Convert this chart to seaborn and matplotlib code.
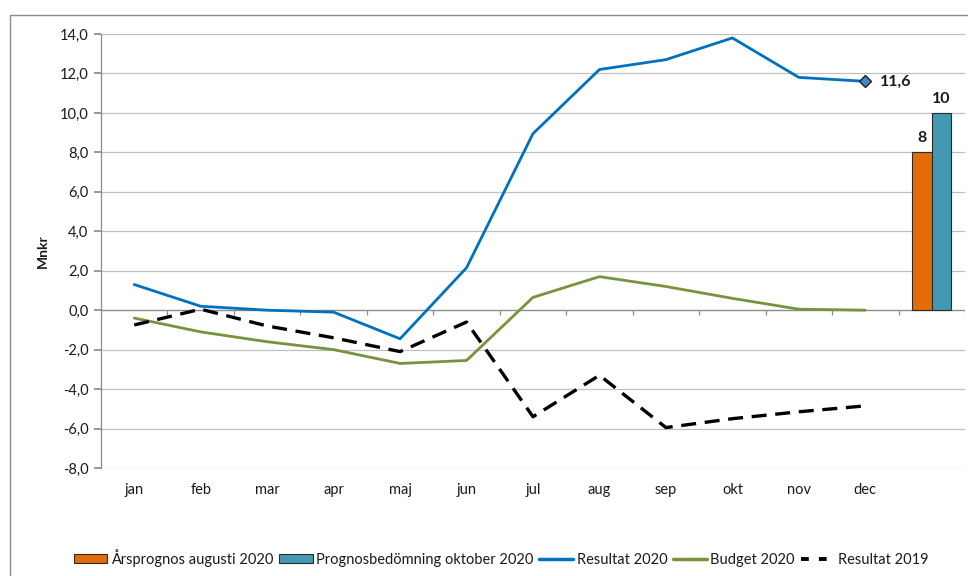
import numpy as np
import pandas as pd
import seaborn as sns
import matplotlib
matplotlib.use("Agg")
import matplotlib.pyplot as plt
from matplotlib.ticker import FuncFormatter, FixedLocator
from matplotlib.patches import Rectangle
from matplotlib.lines import Line2D

months = ["jan", "feb", "mar", "apr", "maj", "jun", "jul", "aug", "sep", "okt", "nov", "dec"]
resultat_2020 = [1.3, 0.2, 0.0, -0.1, -1.45, 2.15, 8.95, 12.2, 12.7, 13.8, 11.8, 11.6]
budget_2020 = [-0.4, -1.1, -1.6, -2.0, -2.7, -2.55, 0.65, 1.7, 1.2, 0.6, 0.05, 0.0]
resultat_2019 = [-0.75, 0.05, -0.8, -1.4, -2.1, -0.6, -5.4, -3.3, -5.95, -5.5, -5.15, -4.85]
bar_series = ["Årsprognos augusti 2020", "Prognosbedömning oktober 2020"]
bar_values = [8, 10]
last_label = "11,6"

sns.set_theme(style="white")
plt.rcParams["font.family"] = ["Lato", "DejaVu Sans"]

fig = plt.figure(figsize=(9.68, 5.76), dpi=100)
ax = fig.add_axes([101 / 968, 1 - 468 / 576, (965 - 101) / 968, (468 - 34) / 576])

# frame around the chart
fig.patches.append(Rectangle((10 / 968, -0.1), 1.2, 1 - 15 / 576 + 0.1, transform=fig.transFigure,
                             fill=False, edgecolor="#8c8c8c", linewidth=1.0, zorder=0))

cats = months + [" "]
bar_df = pd.DataFrame({"cat": [cats[-1]] * 2, "val": bar_values, "series": bar_series})
colors_bar = ["#E36C09", "#4399B1"]
sns.barplot(data=bar_df, x="cat", y="val", hue="series", order=cats, hue_order=bar_series,
            palette=colors_bar, saturation=1, width=0.58, dodge=True, edgecolor="#2b2b2b",
            linewidth=0.8, ax=ax, legend=False, zorder=3)

x = np.arange(len(months))
df = pd.DataFrame({"x": x, "r20": resultat_2020, "b20": budget_2020, "r19": resultat_2019})
sns.lineplot(data=df, x="x", y="r20", color="#0070C0", linewidth=2.0, ax=ax, zorder=4)
sns.lineplot(data=df, x="x", y="b20", color="#77933C", linewidth=2.0, ax=ax, zorder=4)
sns.lineplot(data=df, x="x", y="r19", color="black", linewidth=2.4, ax=ax, zorder=4,
             dashes=False)
ax.lines[-1].set_dashes((4.5, 2.6))

# end marker on last point
ax.plot(x[-1], resultat_2020[-1], marker="D", markersize=6.5, markerfacecolor="#4F81BD",
        markeredgecolor="#1f1f1f", markeredgewidth=1.0, zorder=5, linestyle="none")
ax.text(x[-1] + 0.22, resultat_2020[-1], last_label, fontsize=11.5, fontweight="bold",
        va="center", ha="left", color="#1a1a1a")

# bar labels
for p, v in zip(ax.patches, bar_values):
    ax.text(p.get_x() + p.get_width() / 2, p.get_height() + 0.35, f"{v}", ha="center",
            va="bottom", fontsize=11.5, fontweight="bold", color="#1a1a1a")

ax.set_xlim(-0.5, 12.5)
ax.set_ylim(-8, 14)
ax.yaxis.set_major_locator(FixedLocator(np.arange(-8, 14.1, 2)))
ax.yaxis.set_major_formatter(FuncFormatter(lambda v, p: f"{v:.1f}".replace(".", ",")))
ax.grid(axis="y", color="#c0c0c0", linewidth=0.9)
ax.grid(axis="x", visible=False)
for s in ["top", "right", "bottom"]:
    ax.spines[s].set_visible(False)
ax.spines["left"].set_color("#8c8c8c")
ax.spines["left"].set_linewidth(0.9)
ax.tick_params(axis="y", left=True, length=5, color="#8c8c8c", labelsize=10.5, labelcolor="#1a1a1a", pad=4)
ax.set_xticks(x)
ax.set_xticklabels(months)
ax.tick_params(axis="x", bottom=False, length=0, labelsize=10.5, labelcolor="#1a1a1a", pad=11)

# horizontal axis line at zero with category boundary ticks
ax.axhline(0, color="#8c8c8c", linewidth=0.9, zorder=2)
ax.vlines(np.arange(-0.5, 12.6, 1.0), -0.25, 0, color="#8c8c8c", linewidth=0.9, zorder=2)

ax.set_xlabel("")
ax.set_ylabel("Mnkr", fontsize=10, fontweight="bold", color="#1a1a1a", labelpad=8)

handles = [
    Rectangle((0, 0), 1, 1, facecolor=colors_bar[0], edgecolor="#2b2b2b", linewidth=0.8),
    Rectangle((0, 0), 1, 1, facecolor=colors_bar[1], edgecolor="#2b2b2b", linewidth=0.8),
    Line2D([], [], color="#0070C0", linewidth=2.5),
    Line2D([], [], color="#77933C", linewidth=2.5),
    Line2D([], [], color="black", linewidth=2.8, dashes=(2.0, 2.6)),
]
labels = bar_series + ["Resultat 2020", "Budget 2020", "Resultat 2019"]
fig.legend(handles, labels, loc="center", bbox_to_anchor=(501 / 968, 1 - 558 / 576), ncol=5,
           frameon=False, fontsize=10.5, handlelength=2.3, handleheight=0.6, handletextpad=0.25,
           columnspacing=0.4, labelcolor="#1a1a1a")

fig.savefig("out.png", dpi=100)
